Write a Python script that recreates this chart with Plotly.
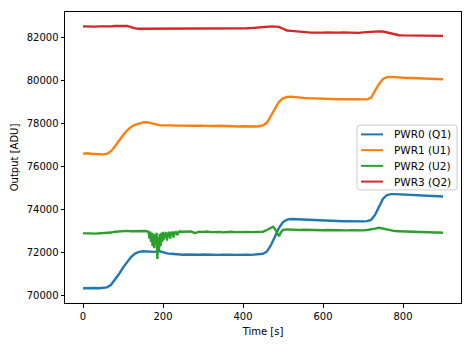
import plotly.graph_objects as go

# Time axis (s) shared by PWR0, PWR1, PWR3
t = list(range(0, 901, 10))

pwr0 = [70340, 70350, 70360, 70350, 70340, 70350, 70380, 70500, 70730, 71000,
        71300, 71570, 71790, 71950, 72030, 72060, 72050, 72020, 72030, 72070,
        72010, 71960, 71940, 71920, 71910, 71900, 71910, 71900, 71890, 71900,
        71910, 71900, 71890, 71900, 71890, 71900, 71910, 71900, 71890, 71900,
        71890, 71900, 71890, 71900, 71910, 71940, 72050, 72350, 72750, 73150,
        73420, 73530, 73560, 73550, 73540, 73530, 73520, 73510, 73500, 73490,
        73490, 73480, 73480, 73470, 73470, 73460, 73460, 73450, 73460, 73450,
        73450, 73460, 73520, 73750, 74150, 74500, 74680, 74720, 74720, 74710,
        74700, 74690, 74680, 74680, 74670, 74660, 74650, 74640, 74630, 74620,
        74610]

pwr1 = [76600, 76620, 76600, 76580, 76560, 76570, 76600, 76720, 76950, 77220,
        77460, 77680, 77850, 77950, 78010, 78060, 78070, 78020, 77960, 77930,
        77920, 77930, 77920, 77910, 77920, 77910, 77900, 77910, 77900, 77910,
        77900, 77890, 77900, 77890, 77900, 77890, 77880, 77890, 77880, 77870,
        77880, 77870, 77880, 77870, 77880, 77920, 78050, 78380, 78760, 79020,
        79180, 79240, 79260, 79230, 79220, 79200, 79190, 79180, 79170, 79170,
        79160, 79160, 79150, 79150, 79140, 79140, 79140, 79130, 79130, 79130,
        79120, 79130, 79200, 79500, 79850, 80080, 80170, 80180, 80160, 80150,
        80140, 80130, 80130, 80120, 80110, 80100, 80100, 80090, 80080, 80070,
        80070]

pwr3 = [82530, 82520, 82530, 82520, 82530, 82520, 82510, 82530, 82550, 82560,
        82560, 82550, 82500, 82440, 82420, 82420, 82410, 82420, 82410, 82420,
        82420, 82430, 82420, 82410, 82420, 82430, 82420, 82410, 82420, 82430,
        82420, 82410, 82420, 82410, 82420, 82410, 82420, 82420, 82410, 82420,
        82430, 82440, 82450, 82460, 82460, 82480, 82510, 82530, 82520, 82510,
        82420, 82340, 82320, 82300, 82290, 82270, 82250, 82240, 82240, 82230,
        82240, 82250, 82240, 82250, 82240, 82250, 82240, 82250, 82240, 82230,
        82250, 82270, 82280, 82290, 82300, 82290, 82250, 82180, 82140, 82120,
        82110, 82110, 82100, 82100, 82100, 82100, 82110, 82100, 82100, 82090,
        82090]

# PWR2 has its own (denser) time sampling around the disturbance
t2 = [0, 10, 20, 30, 40, 50, 60, 70, 80, 90, 100, 110, 120, 130, 140, 150, 160,
      164, 166, 168, 170, 172, 174, 176, 178, 180, 182, 184, 186, 188, 190, 192,
      194, 196, 198, 200, 202, 204, 206, 208, 210, 212, 214, 216, 218, 220, 222,
      224, 226, 228, 230, 232, 236, 240,
      250, 260, 270, 280, 290, 300, 310, 320, 330, 340, 350, 360, 370, 380, 390,
      400, 410, 420, 430, 440, 450, 460, 470, 475, 480, 485, 490, 495, 500,
      510, 520, 530, 540, 550, 560, 570, 580, 590, 600, 610, 620, 630, 640, 650,
      660, 670, 680, 690, 700, 710, 720, 730, 740, 750, 760, 770, 780, 790, 800,
      810, 820, 830, 840, 850, 860, 870, 880, 890, 900]
pwr2 = [72890, 72900, 72890, 72880, 72890, 72880, 72900, 72930, 72970, 72990,
        73000, 73010, 72990, 73000, 73010, 73000, 72990,
        72950, 72650, 72980, 72500, 72920, 72300, 72880, 72200, 72820, 72400,
        72920, 71700, 72720, 72100, 72870, 72300, 72920, 72500, 72960, 72600,
        72920, 72700, 72960, 72550, 72920, 72750, 72970, 72650, 72960, 72800,
        72980, 72700, 72960, 72850, 72990, 72820, 72980,
        72970, 72960, 72980, 72900, 72970, 72960, 72980, 72950, 72970, 72960,
        72940, 72960, 72970, 72950, 72960, 72940, 72960, 72950, 72960, 72940,
        72970, 73050, 73150, 73200, 73100, 72900, 72760, 72950, 73050,
        73080, 73060, 73070, 73050, 73060, 73050, 73060, 73040, 73050, 73040,
        73050, 73040, 73050, 73030, 73040, 73030, 73040, 73030, 73040, 73030,
        73050, 73070, 73110, 73150, 73110, 73060, 73030, 73000, 72990, 72980,
        72970, 72960, 72960, 72950, 72940, 72940, 72930, 72930, 72930, 72920]

names = ["PWR0 (Q1)", "PWR1 (U1)", "PWR2 (U2)", "PWR3 (Q2)"]
colors = ["#1f77b4", "#ff7f0e", "#2ca02c", "#d62728"]

fig = go.Figure()
series = [(t, pwr0), (t, pwr1), (t2, pwr2), (t, pwr3)]
for (xs, ys), name, c in zip(series, names, colors):
    fig.add_trace(go.Scatter(x=xs, y=ys, mode="lines", name=name,
                             showlegend=False,
                             line=dict(color=c, width=2.4)))

# ---- matplotlib-style legend drawn in paper coordinates ----
L, R, T, B = 65, 461, 11, 307          # plot area in pixels
W, H = R - L, B - T
px = lambda X: (X - L) / W
py = lambda Y: (B - Y) / H

bx0, bx1, by0, by1 = 357, 457, 126, 192
r = 3
rx, ry = r / W, r / H
x0, x1, y0, y1 = px(bx0), px(bx1), py(by1), py(by0)
path = (f"M {x0+rx},{y0} L {x1-rx},{y0} Q {x1},{y0} {x1},{y0+ry} "
        f"L {x1},{y1-ry} Q {x1},{y1} {x1-rx},{y1} L {x0+rx},{y1} "
        f"Q {x0},{y1} {x0},{y1-ry} L {x0},{y0+ry} Q {x0},{y0} {x0+rx},{y0} Z")
shapes = [dict(type="path", xref="paper", yref="paper", path=path,
               fillcolor="rgba(255,255,255,0.8)",
               line=dict(color="#cccccc", width=1), layer="above")]
annotations = []
for i, (name, c) in enumerate(zip(names, colors)):
    yrow = 135.5 + 16 * i
    shapes.append(dict(type="line", xref="paper", yref="paper",
                       x0=px(361), x1=px(383), y0=py(yrow), y1=py(yrow),
                       line=dict(color=c, width=2), layer="above"))
    annotations.append(dict(xref="paper", yref="paper", x=px(391.5), y=py(yrow),
                            xanchor="left", yanchor="middle", showarrow=False,
                            text=name, font=dict(size=10.5, color="black")))

axis_common = dict(showline=True, linecolor="black", linewidth=1, mirror=True,
                   ticks="outside", ticklen=3.5, tickcolor="black", showgrid=False,
                   zeroline=False, tickfont=dict(size=10, color="black"))

fig.update_layout(
    width=473, height=347,
    margin=dict(l=L, r=473 - R, t=T, b=347 - B),
    paper_bgcolor="white", plot_bgcolor="white",
    font=dict(family="DejaVu Sans", size=10, color="black"),
    xaxis=dict(range=[-45, 945], tickvals=[0, 200, 400, 600, 800],
               title=dict(text="Time [s]", font=dict(size=10), standoff=7),
               **axis_common),
    yaxis=dict(range=[69650, 83200],
               tickvals=[70000, 72000, 74000, 76000, 78000, 80000, 82000],
               tickformat="d",
               title=dict(text="Output [ADU]", font=dict(size=10), standoff=6),
               **axis_common),
    shapes=shapes,
    annotations=annotations,
    showlegend=False,
)

fig.write_html("out.html")
